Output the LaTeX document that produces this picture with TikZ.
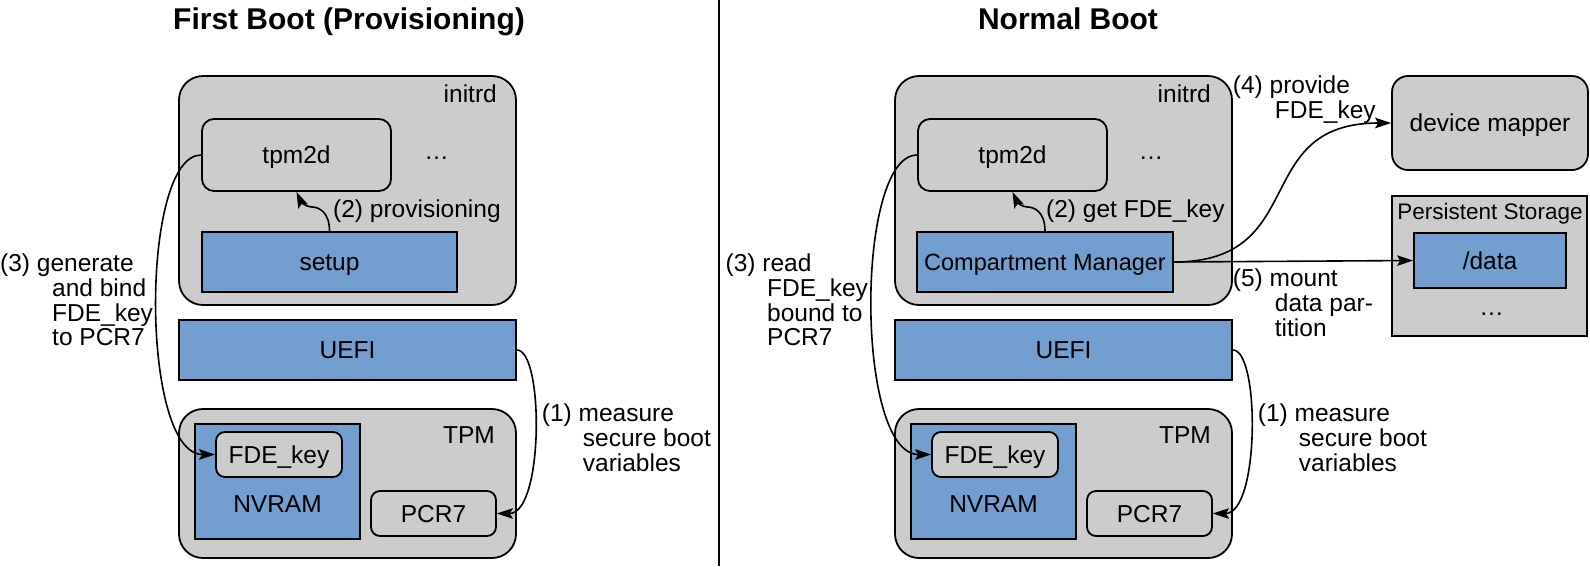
\documentclass[tikz,border=0pt]{standalone}
\usepackage{fontspec}
\setmainfont{Liberation Sans}
\usetikzlibrary{arrows.meta}
\definecolor{boxgray}{HTML}{CCCCCC}
\definecolor{boxblue}{HTML}{729FCF}
\begin{document}
\begin{tikzpicture}[x=1pt,y=-1pt,
  every node/.style={font=\fontsize{24.5}{23.3}\selectfont, inner sep=0pt},
  boxbase/.style={draw=black, line width=1.8pt, text height=17.5pt, text depth=0pt},
  outerbox/.style={boxbase, fill=boxgray, rounded corners=24pt},
  innerbox/.style={boxbase, fill=boxgray, rounded corners=12pt},
  smallbox/.style={boxbase, fill=boxgray, rounded corners=9pt},
  plainbox/.style={boxbase, fill=boxgray},
  bluebox/.style={boxbase, fill=boxblue},
  flow/.style={line width=1.6pt, -{Stealth[length=16pt,width=10.5pt,inset=3pt]}},
  lbl/.style={anchor=base west},
  title/.style={anchor=base, font=\fontsize{30}{30}\selectfont\bfseries}
]
\useasboundingbox (0,0) rectangle (1590,566);

% titles and divider
\node[title] (t1) at (349,29) {First Boot (Provisioning)};
\node[title] (t2) at (1068,29) {Normal Boot};
\draw[line width=1.5pt] (719,0) -- (719,566);

% ---------- left panel ----------
\node[outerbox, minimum width=337pt, minimum height=229pt] (iL) at (347.5,190.5) {};
\node[anchor=base east] (iLt) at (497,102) {initrd};
\node[innerbox, minimum width=189pt, minimum height=72pt] (tL) at (296.5,155) {tpm2d};
\node[anchor=base] (dL) at (436.5,159) {…};
\node[bluebox, minimum width=255pt, minimum height=60pt] (sL) at (329.5,262) {setup};
\node[lbl] (pL) at (333,217) {(2) provisioning};
\node[bluebox, minimum width=337pt, minimum height=60pt] (uL) at (347.5,350) {UEFI};
\node[outerbox, minimum width=337pt, minimum height=149pt] (TL) at (347.5,483.5) {};
\node[anchor=base east] (TLt) at (495,443) {TPM};
\node[bluebox, minimum width=165pt, minimum height=115pt] (nL) at (277.5,481.5) {};
\node[anchor=base] (nLt) at (277.5,512) {NVRAM};
\node[smallbox, minimum width=126pt, minimum height=45pt] (fL) at (279,454.5) {FDE\_key};
\node[smallbox, minimum width=125pt, minimum height=45pt] (rL) at (433.5,513.5) {PCR7};

\coordinate (wL) at (312,207);
\draw[flow] (sL.north) .. controls +(0,-20) and +(6,0) .. (wL) .. controls +(-6,0) and +(4.5,10) .. (tL.south);
\draw[flow] (tL.west) .. controls +(-61,0) and +(-75,0) .. (fL.west);
\draw[flow] (uL.east) .. controls +(27,0) and +(47,0) .. (rL.east);

\node[lbl] (l3L) at (0,271.7) {\begin{tabular}[t]{@{}l@{}}(3) generate\\\hspace*{52pt}and bind\\\hspace*{52pt}FDE\_key\\\hspace*{52pt}to PCR7\end{tabular}};
\node[lbl] (l1L) at (541.7,421.7) {\begin{tabular}[t]{@{}l@{}}(1) measure\\\hspace*{41pt}secure boot\\\hspace*{41pt}variables\end{tabular}};

% ---------- right panel ----------
\node[outerbox, minimum width=337pt, minimum height=229pt] (iR) at (1063.5,190.5) {};
\node[anchor=base east] (iRt) at (1211,102) {initrd};
\node[innerbox, minimum width=189pt, minimum height=72pt] (tR) at (1012.5,155) {tpm2d};
\node[anchor=base] (dR) at (1151,159) {…};
\node[bluebox, minimum width=256pt, minimum height=60pt, font=\fontsize{23.5}{23.5}\selectfont] (cm) at (1045,262) {Compartment Manager};
\node[lbl] (pR) at (1046,217) {(2) get FDE\_key};
\node[bluebox, minimum width=337pt, minimum height=60pt] (uR) at (1063.5,350) {UEFI};
\node[outerbox, minimum width=337pt, minimum height=149pt] (TR) at (1063.5,483.5) {};
\node[anchor=base east] (TRt) at (1211,443) {TPM};
\node[bluebox, minimum width=165pt, minimum height=115pt] (nR) at (993.5,481.5) {};
\node[anchor=base] (nRt) at (993.5,512) {NVRAM};
\node[smallbox, minimum width=126pt, minimum height=45pt] (fR) at (995,454.5) {FDE\_key};
\node[smallbox, minimum width=125pt, minimum height=45pt] (rR) at (1149.5,513.5) {PCR7};

\node[boxbase, fill=boxgray, rounded corners=16pt, minimum width=196pt, minimum height=94pt] (dm) at (1490,123) {device mapper};
\node[plainbox, minimum width=195pt, minimum height=140pt] (ps) at (1489.5,266) {};
\node[anchor=base, font=\fontsize{22.5}{22.5}\selectfont] (pst) at (1490,219.3) {Persistent Storage};
\node[bluebox, minimum width=152pt, minimum height=55pt] (da) at (1490,260.5) {/data};
\node[anchor=base] (dP) at (1491.5,315) {…};

\coordinate (wR) at (1027.5,207);
\draw[flow] (cm.north) .. controls +(0,-20) and +(6,0) .. (wR) .. controls +(-6,0) and +(4.5,10) .. (tR.south);
\draw[flow] (tR.west) .. controls +(-62,0) and +(-76,0) .. (fR.west);
\draw[flow] (uR.east) .. controls +(27,0) and +(47,0) .. (rR.east);
\draw[flow] (cm.east) .. controls +(137,0) and +(-142,0) .. (dm.west);
\draw[flow] (cm.east) -- (da.west);

\node[lbl] (l3R) at (725.5,271.7) {\begin{tabular}[t]{@{}l@{}}(3) read\\\hspace*{41.5pt}FDE\_key\\\hspace*{41.5pt}bound to\\\hspace*{41.5pt}PCR7\end{tabular}};
\node[lbl] (l1R) at (1257.7,421.7) {\begin{tabular}[t]{@{}l@{}}(1) measure\\\hspace*{41pt}secure boot\\\hspace*{41pt}variables\end{tabular}};
\node[lbl] (l4R) at (1232.7,93.4) {\begin{tabular}[t]{@{}l@{}}(4) provide\\\hspace*{42pt}FDE\_key\end{tabular}};
\node[lbl] (l5R) at (1232.7,286.7) {\begin{tabular}[t]{@{}l@{}}(5) mount\\\hspace*{42pt}data par-\\\hspace*{42pt}tition\end{tabular}};
\end{tikzpicture}
\end{document}
